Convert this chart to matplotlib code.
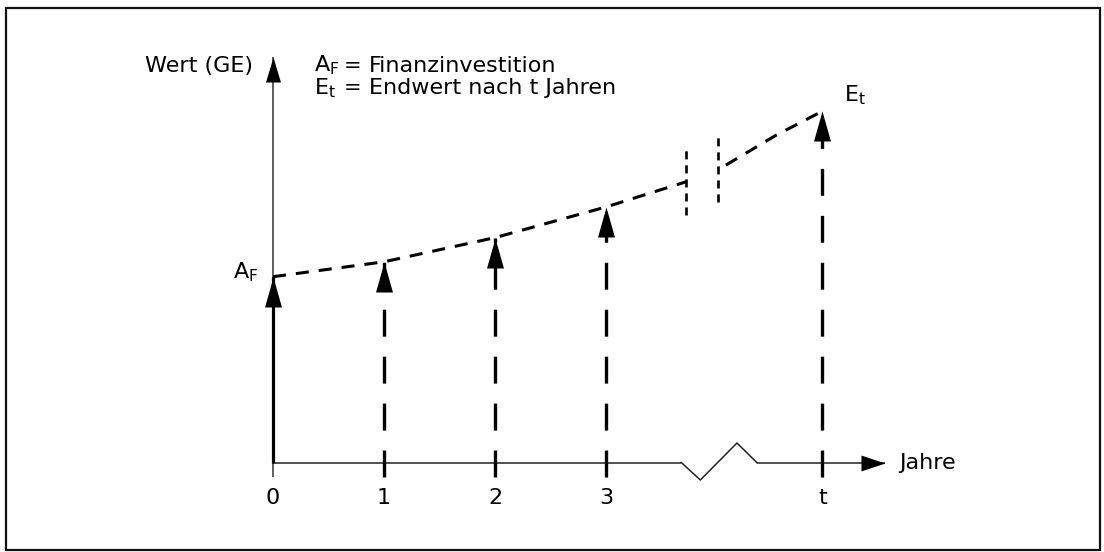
import matplotlib
matplotlib.use("Agg")
import matplotlib.pyplot as plt
from matplotlib.patches import Rectangle

plt.rcParams['font.family'] = ['DejaVu Sans']
plt.rcParams['lines.scale_dashes'] = False

# ---------------- data ----------------
years = [1, 2, 3]
year_values = [108, 121, 137.5]
A_F = 100
t_pos = 4.95
E_t = 189

tick_pos = [0, 1, 2, 3, 4.95]
tick_labels = ['0', '1', '2', '3', 't']

curve1_x = [0, 1, 2, 3, 3.72]
curve1_v = [100, 108, 121, 137.5, 151]
curve2_x = [4.08, 4.53, 4.95]
curve2_v = [160, 176, 189]

break_x = [3.72, 4.01]
break_lo = [133, 140]
break_hi = [170, 177]

axis_x1 = [0, 3.68]
zigzag_x = [3.68, 3.85, 4.18, 4.36]
zigzag_v = [0, -9.3, 10.6, 0]
axis_x2 = [4.36, 5.51]
yaxis_top = 218
tick_low = -7.7

# ---------------- figure ----------------
W, H = 1104, 552
X0, XS, Y0, YS = 273, 111, 462.7, 1.86
fig = plt.figure(figsize=(W / 100, H / 100), dpi=100)
ax = fig.add_axes([0, 0, 1, 1])
ax.axis('off')
ax.set_xlim(-X0 / XS, (W - X0) / XS)
ax.set_ylim((Y0 - H) / YS, Y0 / YS)

fig.patches.append(Rectangle((6 / W, 2 / H), (1100 - 6) / W, (550 - 8) / H,
                             transform=fig.transFigure, fill=False,
                             lw=1.6, ec='#111111'))

FS = 16
head_up = [(0, 0), (-0.283, -1), (0.283, -1)]
head_up_ax = [(0, 0), (-0.3, -1), (0.3, -1)]
head_right = [(0, 0), (-1, 0.33), (-1, -0.33)]

# x axis with break
ax.plot(axis_x1, [0, 0], color='#222222', lw=1.1, solid_capstyle='butt')
ax.plot(zigzag_x, zigzag_v, color='#222222', lw=1.1)
ax.plot(axis_x2, [0, 0], color='#222222', lw=1.1, solid_capstyle='butt')
ax.plot([axis_x2[1]], [0], marker=head_right, ms=34.6, mfc='black', mec='black', mew=0, ls='none')

# y axis
ax.plot([0, 0], [tick_low, yaxis_top], color='#333333', lw=1.1, solid_capstyle='butt')
ax.plot([0, 0], [0, A_F], color='black', lw=2.3, solid_capstyle='butt')
ax.plot([0], [yaxis_top], marker=head_up_ax, ms=36, mfc='black', mec='black', mew=0, ls='none')
ax.plot([0], [A_F], marker=head_up, ms=43.2, mfc='black', mec='black', mew=0, ls='none')

# dashed arrows for years and t
for x, v in zip(years + [t_pos], year_values + [E_t]):
    ax.plot([x, x], [tick_low, v], color='black', lw=2.4, ls=(0, (19.4, 14.4)))
    ax.plot([x], [v], marker=head_up, ms=43.2, mfc='black', mec='black', mew=0, ls='none')

# growth curve
ax.plot(curve1_x, curve1_v, color='black', lw=2.2, ls=(0, (9.4, 7.2)))
ax.plot(curve2_x, curve2_v, color='black', lw=2.2, ls=(0, (9.4, 7.2)))

# break marks
for x, lo, hi in zip(break_x, break_lo, break_hi):
    ax.plot([x, x], [lo, hi], color='black', lw=1.9, ls=(0, (5.8, 4.3)))

# tick labels
for p, lab in zip(tick_pos, tick_labels):
    ax.text(p, -19, lab, ha='center', va='center', fontsize=FS)
ax.text(5.64, 0, 'Jahre', ha='left', va='center', fontsize=FS)

# labels
row1, row2 = 213.5, 201.5
ax.text(-0.18, row1, 'Wert (GE)', ha='right', va='center', fontsize=FS)
ax.text(0.369, row1, r'A$_\mathregular{F}$', ha='left', va='center', fontsize=FS)
ax.text(0.72, row1, '=', ha='center', va='center', fontsize=FS - 1)
ax.text(0.865, row1, 'Finanzinvestition', ha='left', va='center', fontsize=FS)
ax.text(0.369, row2, r'E$_\mathregular{t}$', ha='left', va='center', fontsize=FS)
ax.text(0.72, row2, '=', ha='center', va='center', fontsize=FS - 1)
ax.text(0.865, row2, 'Endwert nach t Jahren', ha='left', va='center', fontsize=FS)
ax.text(-0.135, 102.5, r'A$_\mathregular{F}$', ha='right', va='center', fontsize=FS)
ax.text(5.14, 197.6, r'E$_\mathregular{t}$', ha='left', va='center', fontsize=FS)

fig.savefig('out.png', dpi=100)
